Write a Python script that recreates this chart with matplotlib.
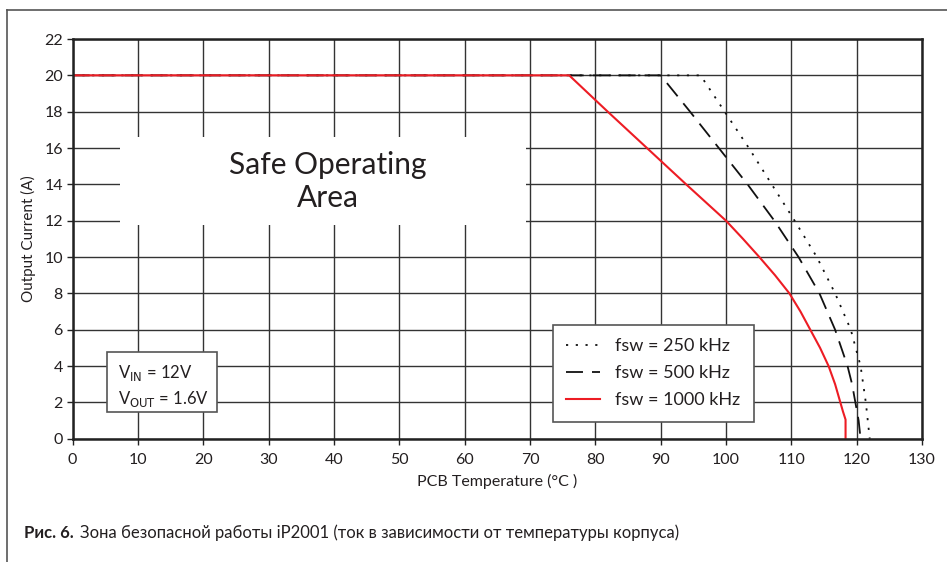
import matplotlib
matplotlib.use("Agg")
import matplotlib.pyplot as plt
from matplotlib.patches import Rectangle
from matplotlib.lines import Line2D

plt.rcParams['font.family'] = ['Lato', 'DejaVu Sans']

# Data
current_250 = [20, 20, 18, 16, 14, 12, 10, 8, 6, 4, 3, 2, 1, 0]
temp_250 = [0, 96.1, 99.8, 103.5, 107.0, 110.5, 113.9, 116.7, 119.1, 120.6, 121.0, 121.4, 121.7, 122.0]
current_500 = [20, 20, 18, 16, 14, 12, 10, 8, 6, 4, 3, 2, 1, 0]
temp_500 = [0, 90, 94.5, 98.9, 103.3, 107.4, 111.1, 114.3, 116.7, 118.6, 119.3, 119.8, 120.3, 120.6]
current_1000 = [20, 20, 18, 16, 14, 12, 11, 10, 9, 8, 7, 6, 5, 4, 3, 2, 1.5, 1.05, 0]
temp_1000 = [0, 76, 81.9, 87.9, 93.9, 100, 102.6, 105.1, 107.5, 109.7, 111.4, 112.9, 114.4,
             115.7, 116.7, 117.5, 117.9, 118.3, 118.3]
labels = ["fsw = 250 kHz", "fsw = 500 kHz", "fsw = 1000 kHz"]
x_ticks = list(range(0, 131, 10))
y_ticks = list(range(0, 23, 2))

RED = '#ed1c24'
INK = '#231f20'

fig = plt.figure(figsize=(9.47, 5.62), dpi=100)
ax = fig.add_axes([0.0767, 0.2194, 0.8969, 0.7112])

ax.set_xlim(0, 130)
ax.set_ylim(0, 22)
ax.set_xticks(x_ticks)
ax.set_yticks(y_ticks)
ax.tick_params(labelsize=11.5, length=4, width=1, color='#222222', labelcolor=INK)
ax.tick_params(axis='x', pad=6)
ax.tick_params(axis='y', pad=3)
ax.grid(True, color='#333333', linewidth=1.0)
ax.set_axisbelow(True)
for s in ax.spines.values():
    s.set_linewidth(1.8)
    s.set_color('#222222')

l1, = ax.plot(temp_250, current_250, color='#111111', lw=1.3, linestyle=(0, (1.2, 4.2)))
l2, = ax.plot(temp_500, current_500, color='#111111', lw=1.3, linestyle=(0, (9.4, 5)))
l3, = ax.plot(temp_1000, current_1000, color=RED, lw=1.5)

ax.set_xlabel("PCB Temperature (°C )", fontsize=11.5, labelpad=5, color=INK)
ax.set_ylabel("Output Current (A)", fontsize=11, labelpad=6, color=INK)

# Safe operating area white box
ax.add_patch(Rectangle((7.3, 11.75), 62.1, 4.85, facecolor='white', edgecolor='none', zorder=2))
ax.text(39.1, 14.15, "Safe Operating\nArea", ha='center', va='center', fontsize=21.5,
        color=INK, linespacing=1.25, zorder=3)

# VIN / VOUT box
ax.add_patch(Rectangle((5.3, 1.45), 16.8, 3.3, facecolor='white', edgecolor='#555555', lw=1.2, zorder=4))
ax.text(7.0, 3.6, r"V$_{\mathrm{IN}}$ = 12V", fontsize=12, va='center', ha='left', zorder=5, color=INK)
ax.text(7.0, 2.2, r"V$_{\mathrm{OUT}}$ = 1.6V", fontsize=12, va='center', ha='left', zorder=5, color=INK)

leg = ax.legend([l1, l2, l3], labels, loc='lower left', bbox_to_anchor=(73.46 / 130, 0.94 / 22),
                borderaxespad=0, fontsize=13, frameon=True, fancybox=False, framealpha=1,
                edgecolor='#555555', handlelength=1.9, handletextpad=0.8, borderpad=0.75,
                labelspacing=0.6)
for t in leg.get_texts():
    t.set_color(INK)
leg.get_frame().set_linewidth(1.2)
leg.set_zorder(6)

# outer frame lines
fig.add_artist(Line2D([7 / 947, 7 / 947], [0, 1 - 10 / 562], transform=fig.transFigure, color='#555555', lw=1.2))
fig.add_artist(Line2D([7 / 947, 1], [1 - 10 / 562, 1 - 10 / 562], transform=fig.transFigure, color='#555555', lw=1.2))

# caption
fig.text(24 / 947, 1 - 533 / 562, "Рис. 6.", fontsize=12, fontweight='bold', va='center', ha='left', color=INK)
fig.text(80 / 947, 1 - 533 / 562, "Зона безопасной работы iP2001 (ток в зависимости от температуры корпуса)",
         fontsize=12, va='center', ha='left', color=INK)

fig.savefig("out.png", dpi=100)
